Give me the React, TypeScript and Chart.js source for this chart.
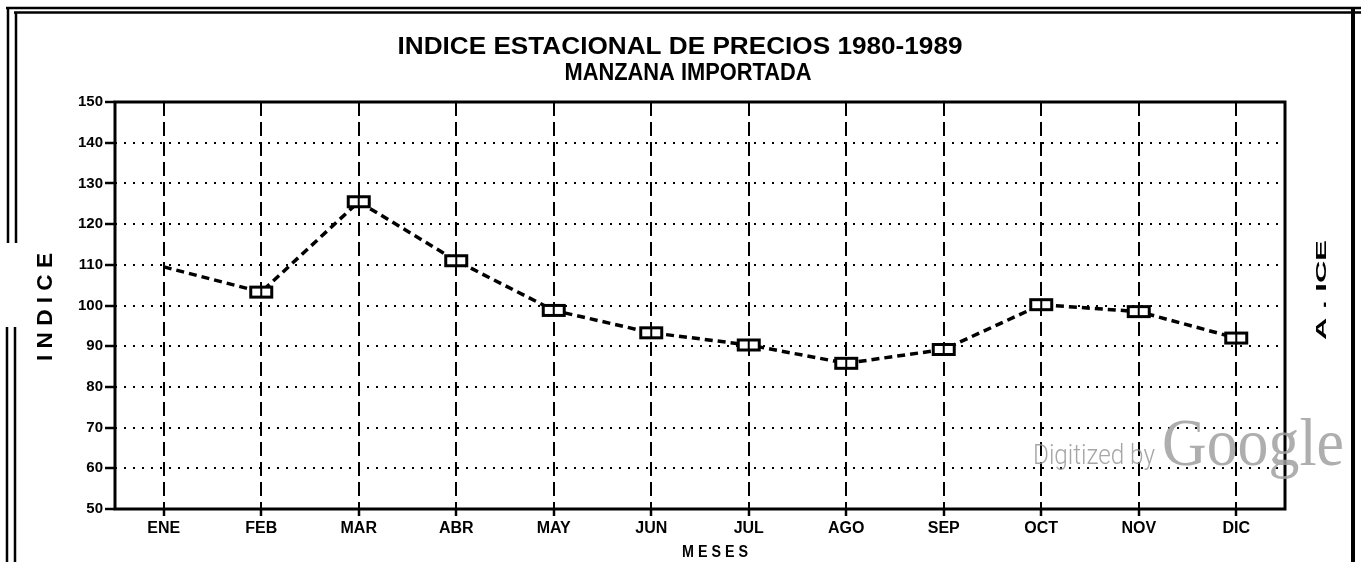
import React, { useEffect, useRef } from 'react';
import { Chart, registerables } from 'chart.js';

Chart.register(...registerables);

// ---- data ----
const MONTHS = ['ENE', 'FEB', 'MAR', 'ABR', 'MAY', 'JUN', 'JUL', 'AGO', 'SEP', 'OCT', 'NOV', 'DIC'];
const INDICE = [109.5, 103.3, 125.5, 111.0, 98.8, 93.3, 90.3, 85.8, 89.2, 100.2, 98.5, 92.0];
const Y_MIN = 50;
const Y_MAX = 150;
const Y_STEP = 10;
const TITLE_LINES = ['INDICE ESTACIONAL DE PRECIOS 1980-1989', 'MANZANA IMPORTADA'];
const Y_TITLE = 'INDICE';
const X_TITLE = 'MESES';
const BLEED_TEXT = 'A . ICE';
const WATERMARK_SMALL = 'Digitized by';
const WATERMARK_BIG = 'Google';

const W = 1361;
const H = 562;
const FONT = '"Liberation Sans", Arial, sans-serif';

function makeMarker(): HTMLCanvasElement {
  const c = document.createElement('canvas');
  c.width = 26;
  c.height = 15;
  const g = c.getContext('2d')!;
  g.fillStyle = '#fff';
  g.fillRect(2, 2, 22, 11);
  g.strokeStyle = '#000';
  g.lineWidth = 3;
  g.strokeRect(2.5, 2.5, 21, 10);
  g.lineWidth = 2;
  g.beginPath();
  g.moveTo(13, 3);
  g.lineTo(13, 12);
  g.stroke();
  return c;
}

function fitText(
  ctx: CanvasRenderingContext2D,
  text: string,
  cx: number,
  cy: number,
  font: string,
  width: number,
  color: string,
  align: 'center' | 'left' = 'center',
  baseline: CanvasTextBaseline = 'middle'
) {
  ctx.save();
  ctx.font = font;
  ctx.fillStyle = color;
  ctx.textAlign = 'left';
  ctx.textBaseline = baseline;
  const m = ctx.measureText(text).width;
  const sx = width / m;
  const x0 = align === 'center' ? cx - width / 2 : cx;
  ctx.translate(x0, cy);
  ctx.scale(sx, 1);
  ctx.fillText(text, 0, 0);
  ctx.restore();
}

const decorPlugin = {
  id: 'decor',
  beforeDraw(chart: any) {
    const ctx: CanvasRenderingContext2D = chart.ctx;
    ctx.save();
    ctx.fillStyle = '#fff';
    ctx.fillRect(0, 0, chart.width, chart.height);
    ctx.restore();
  },
  afterDraw(chart: any) {
    const ctx: CanvasRenderingContext2D = chart.ctx;
    const a = chart.chartArea;
    ctx.save();
    // plot frame
    ctx.strokeStyle = '#000';
    ctx.lineWidth = 3;
    ctx.setLineDash([]);
    ctx.strokeRect(a.left, a.top, a.right - a.left, a.bottom - a.top);

    // scanned page frame
    ctx.lineWidth = 2.5;
    ctx.beginPath();
    ctx.moveTo(6, 8); ctx.lineTo(W, 8);
    ctx.moveTo(14, 12.5); ctx.lineTo(W, 12.5);
    ctx.moveTo(8, 8); ctx.lineTo(8, 243);
    ctx.moveTo(16, 12); ctx.lineTo(16, 243);
    ctx.moveTo(7, 327); ctx.lineTo(7, H);
    ctx.moveTo(15, 327); ctx.lineTo(15, H);
    ctx.stroke();
    ctx.lineWidth = 4;
    ctx.beginPath();
    ctx.moveTo(1353, 8); ctx.lineTo(1353, H);
    ctx.stroke();

    // titles
    fitText(ctx, TITLE_LINES[0], 680, 47, `bold 24px ${FONT}`, 565, '#000');
    fitText(ctx, TITLE_LINES[1], 688, 73, `bold 24px ${FONT}`, 247, '#000');

    // y title (rotated)
    ctx.save();
    ctx.translate(46, 307);
    ctx.rotate(-Math.PI / 2);
    fitText(ctx, Y_TITLE.split('').join(' '), 0, 0, `bold 22px ${FONT}`, 108, '#000');
    ctx.restore();

    // bleed-through text on the right
    ctx.save();
    ctx.translate(1322, 290);
    ctx.rotate(-Math.PI / 2);
    fitText(ctx, BLEED_TEXT, 0, 0, `bold 15px ${FONT}`, 100, '#000');
    ctx.restore();

    // x title
    fitText(ctx, X_TITLE.split('').join(' '), 715, 552, `bold 17px ${FONT}`, 66, '#000');

    // watermark
    fitText(ctx, WATERMARK_SMALL, 1033, 464, `300 28px Roboto, "Open Sans", sans-serif`, 122, 'rgba(150,150,150,0.85)', 'left', 'alphabetic');
    fitText(ctx, WATERMARK_BIG, 1162, 465, `67px "Liberation Serif", "DejaVu Serif", serif`, 182, 'rgba(160,160,160,0.85)', 'left', 'alphabetic');
    ctx.restore();
  },
};

export default function App() {
  const ref = useRef<HTMLCanvasElement>(null);

  useEffect(() => {
    if (!ref.current) return;
    const marker = makeMarker();
    const chart = new Chart(ref.current, {
      type: 'line',
      data: {
        labels: MONTHS,
        datasets: [
          {
            label: Y_TITLE,
            data: INDICE,
            borderColor: '#000',
            borderWidth: 3.5,
            borderDash: [8, 5],
            tension: 0,
            fill: false,
            pointStyle: marker as any,
            pointRadius: (c: any) => (c.dataIndex === 0 ? 0 : 7),
            pointHoverRadius: (c: any) => (c.dataIndex === 0 ? 0 : 7),
          },
        ],
      },
      options: {
        responsive: false,
        animation: false,
        events: [],
        layout: { padding: { top: 102, right: 76, left: 0, bottom: 0 } },
        plugins: {
          legend: { display: false },
          title: { display: false },
          tooltip: { enabled: false },
        },
        scales: {
          x: {
            type: 'category',
            offset: true,
            afterFit: (s: any) => {
              s.height = 53;
            },
            ticks: {
              color: '#000',
              font: { family: FONT, size: 16, weight: 'bold' },
              padding: 3,
              maxRotation: 0,
              autoSkip: false,
            },
            grid: {
              offset: false,
              color: '#000',
              lineWidth: 2,
              tickLength: 7,
              tickWidth: 2.5,
              tickColor: '#000',
              tickBorderDash: [],
            },
            border: { display: false, dash: [14, 6] },
          },
          y: {
            min: Y_MIN,
            max: Y_MAX,
            afterFit: (s: any) => {
              s.width = 115;
            },
            ticks: {
              stepSize: Y_STEP,
              color: '#000',
              font: { family: FONT, size: 15, weight: 'bold' },
              padding: 2,
            },
            grid: {
              color: '#000',
              lineWidth: 2,
              tickLength: 10,
              tickWidth: 2.5,
              tickColor: '#000',
              tickBorderDash: [],
            },
            border: { display: false, dash: [2, 7] },
          },
        },
      },
      plugins: [decorPlugin],
    });
    return () => chart.destroy();
  }, []);

  return (
    <div style={{ position: 'fixed', left: 0, top: 0, width: W, height: H, background: '#fff' }}>
      <canvas ref={ref} width={W} height={H} style={{ display: 'block', width: W, height: H }} />
    </div>
  );
}
